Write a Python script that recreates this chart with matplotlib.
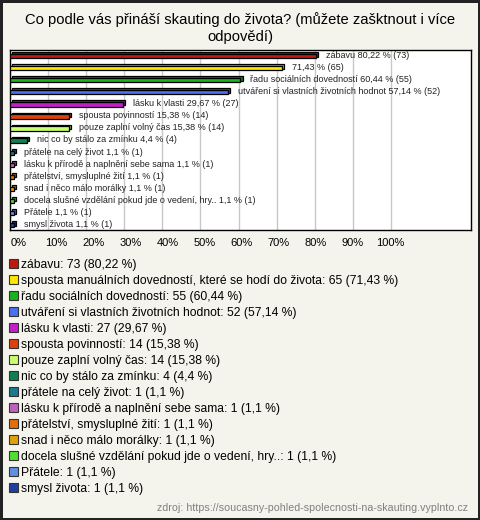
import matplotlib.pyplot as plt
from matplotlib.patches import Patch
import matplotlib.colors as mcolors

# answers, counts and shares as shown in the chart
legend_names = [
    'zábavu',
    'spousta manuálních dovedností, které se hodí do života',
    'řadu sociálních dovedností',
    'utváření si vlastních životních hodnot',
    'lásku k vlasti',
    'spousta povinností',
    'pouze zaplní volný čas',
    'nic co by stálo za zmínku',
    'přátele na celý život',
    'lásku k přírodě a naplnění sebe sama',
    'přátelství, smysluplné žití',
    'snad i něco málo morálky',
    'docela slušné vzdělání pokud jde o vedení, hry..',
    'Přátele',
    'smysl života',
]
# names printed next to the bars (the long second one is left out in the original)
bar_names = [
    'zábavu', '', 'řadu sociálních dovedností',
    'utváření si vlastních životních hodnot', 'lásku k vlasti',
    'spousta povinností', 'pouze zaplní volný čas', 'nic co by stálo za zmínku',
    'přátele na celý život', 'lásku k přírodě a naplnění sebe sama',
    'přátelství, smysluplné žití', 'snad i něco málo morálky',
    'docela slušné vzdělání pokud jde o vedení, hry..', 'Přátele', 'smysl života',
]
counts = [73, 65, 55, 52, 27, 14, 14, 4, 1, 1, 1, 1, 1, 1, 1]
percents = [80.22, 71.43, 60.44, 57.14, 29.67, 15.38, 15.38, 4.4,
            1.1, 1.1, 1.1, 1.1, 1.1, 1.1, 1.1]
colors = ['#c01a10', '#ffe600', '#1cb01c', '#4a70f0', '#c020c8', '#e04010',
          '#c8ff70', '#108050', '#1a7a8a', '#c060c0', '#e07010', '#e0a010',
          '#50e030', '#6090e0', '#2040a0']
ticks = [0, 10, 20, 30, 40, 50, 60, 70, 80, 90, 100]

BG = '#f4f3ec'


def fmt(v):
    return ('%g' % v).replace('.', ',')


fig = plt.figure(figsize=(4.8, 5.2), dpi=100)
fig.patch.set_facecolor(BG)
fig.patch.set_edgecolor('#222222')
fig.patch.set_linewidth(2.5)

fig.text(0.5, 1 - 20 / 520, 'Co podle vás přináší skauting do života? (můžete zašktnout i více',
         ha='center', va='center', fontsize=10.6, family='Liberation Sans')
fig.text(0.5, 1 - 37 / 520, 'odpovědí)', ha='center', va='center',
         fontsize=10.6, family='Liberation Sans')

ax = fig.add_axes([10 / 480, 1 - 230 / 520, 461 / 480, 180 / 520])
ax.set_facecolor('white')
n = len(percents)
ypos = list(range(n))

# 3d look: darker back face shifted up/right, then the front face
dx, dy = 0.6, 0.14
h = 0.36
shade = [tuple(c * 0.7 for c in mcolors.to_rgb(col)) for col in colors]
ax.barh([y - dy for y in ypos], percents, left=dx, height=h, color=shade,
        edgecolor='black', linewidth=0.9, zorder=2)
ax.barh(ypos, percents, height=h, color=colors, edgecolor='black',
        linewidth=0.9, zorder=3)

for y, name, p, c in zip(ypos, bar_names, percents, counts):
    txt = '%s %s %% (%d)' % (name, fmt(p), c) if name else '%s %% (%d)' % (fmt(p), c)
    ax.text(p + 2.6, y - 0.05, txt, va='center', ha='left', fontsize=6.5,
            family='Liberation Sans', color='#222222', zorder=4)

ax.set_xlim(0, 121)
ax.set_ylim(n - 0.6, -0.5)
ax.set_yticks([])
ax.set_xticks(ticks)
ax.set_xticklabels([])
ax.tick_params(axis='x', length=0)
ax.grid(axis='x', color='#c8c8c8', linewidth=1, zorder=0)
ax.set_axisbelow(True)
for s in ax.spines.values():
    s.set_color('black')
    s.set_linewidth(1)

# tick labels sit on a slightly tighter spacing than the grid in the original
for t in ticks:
    ax.text((9 + 3.7 * t) / 3.8, -0.075, '%d%%' % t, transform=ax.get_xaxis_transform(),
            ha='center', va='center', fontsize=8, family='Liberation Sans')

handles = [Patch(facecolor=col, edgecolor='#333333', linewidth=0.8) for col in colors]
labels = ['%s: %d (%s %%)' % (nm, c, fmt(p)) for nm, c, p in zip(legend_names, counts, percents)]
fig.legend(handles, labels, loc='upper left', bbox_to_anchor=(9 / 480, 1 - 259 / 520),
           frameon=False, prop={'family': 'Liberation Sans', 'size': 8.7},
           handlelength=0.75, handleheight=0.75, handletextpad=0.25,
           labelspacing=0.33, borderaxespad=0, borderpad=0)

fig.text(1 - 12 / 480, 1 - 508 / 520,
         'zdroj: https://soucasny-pohled-spolecnosti-na-skauting.vyplnto.cz',
         ha='right', va='center', fontsize=7.7, family='Liberation Sans', color='#808080')

fig.savefig('out.png', dpi=100, facecolor=BG, edgecolor=fig.patch.get_edgecolor())
